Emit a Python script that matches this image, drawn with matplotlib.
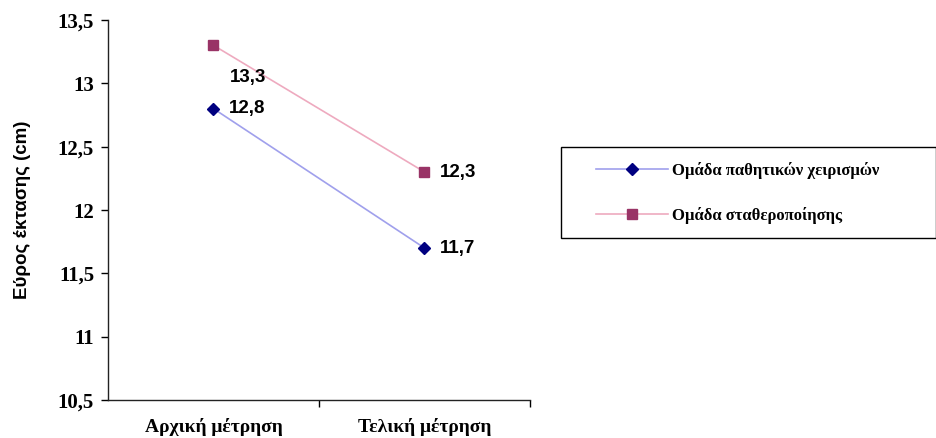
import matplotlib
matplotlib.use("Agg")
import matplotlib.pyplot as plt
from matplotlib.ticker import FixedLocator
from matplotlib.patches import Rectangle

categories = ["Αρχική μέτρηση", "Τελική μέτρηση"]
series_names = ["Ομάδα παθητικών χειρισμών", "Ομάδα σταθεροποίησης"]
passive = [12.8, 11.7]
stabil = [13.3, 12.3]
passive_labels = ["12,8", "11,7"]
stabil_labels = ["13,3", "12,3"]
yticks = [10.5, 11, 11.5, 12, 12.5, 13, 13.5]
ytick_labels = ["10,5", "11", "11,5", "12", "12,5", "13", "13,5"]

fig = plt.figure(figsize=(9.37, 4.38), dpi=100)
ax = fig.add_axes([108/937, 1-400/438, (530-108)/937, (400-20)/438])

x = list(range(len(categories)))
l1, = ax.plot(x, passive, color="#a0a0ec", lw=1.2, marker="D", ms=6.5,
              mfc="#000080", mec="#000080", label=series_names[0])
l2, = ax.plot(x, stabil, color="#eeaabf", lw=1.2, marker="s", ms=7,
              mfc="#993366", mec="#993366", label=series_names[1])

lab_font = dict(family="Liberation Sans", weight="bold", fontsize=13.5, color="black")
for xi, v, t in zip(x, passive, passive_labels):
    ax.annotate(t, (xi, v), xytext=(11, 0), textcoords="offset points",
                ha="left", va="center", **lab_font)
ax.annotate(stabil_labels[0], (x[0], stabil[0]), xytext=(25, -23), textcoords="offset points",
            ha="center", va="center", **lab_font)
ax.annotate(stabil_labels[1], (x[1], stabil[1]), xytext=(11, 0), textcoords="offset points",
            ha="left", va="center", **lab_font)

ax.set_xlim(-0.5, 1.5)
ax.set_ylim(10.5, 13.5)
ax.set_yticks(yticks)
ax.set_yticklabels(ytick_labels, fontfamily="Liberation Serif", fontweight="bold", fontsize=15)
ax.set_xticks(x)
ax.set_xticklabels(categories, fontfamily="Liberation Serif", fontweight="bold", fontsize=14)
ax.tick_params(axis="x", which="major", length=0, pad=13)
ax.xaxis.set_minor_locator(FixedLocator([0.5, 1.5]))
ax.tick_params(axis="x", which="minor", length=5, direction="out", width=1)
ax.tick_params(axis="y", length=5, direction="out", width=1, pad=5)
for s in ["top", "right"]:
    ax.spines[s].set_visible(False)
for s in ["left", "bottom"]:
    ax.spines[s].set_linewidth(1)
    ax.spines[s].set_color("#222222")

ax.set_ylabel("Εύρος έκτασης (cm)", fontfamily="Liberation Sans", fontweight="bold",
              fontsize=13.5)
ax.yaxis.set_label_coords(-0.182, 0.5)

# legend frame
fig.patches.append(Rectangle((561/937, 1-238/438), (936-561)/937, (238-147)/438,
                             transform=fig.transFigure, fill=False, edgecolor="black",
                             linewidth=1, zorder=5))
leg = fig.legend(handles=[l1, l2], loc="center left",
                 bbox_to_anchor=(596/937, 1-193/438), bbox_transform=fig.transFigure,
                 frameon=False,
                 prop=dict(family="Liberation Serif", weight="bold", size=12),
                 handlelength=4.3, borderpad=0, labelspacing=1.65, handletextpad=0.25,
                 borderaxespad=0)

fig.savefig("out.png", dpi=100, facecolor="white")
